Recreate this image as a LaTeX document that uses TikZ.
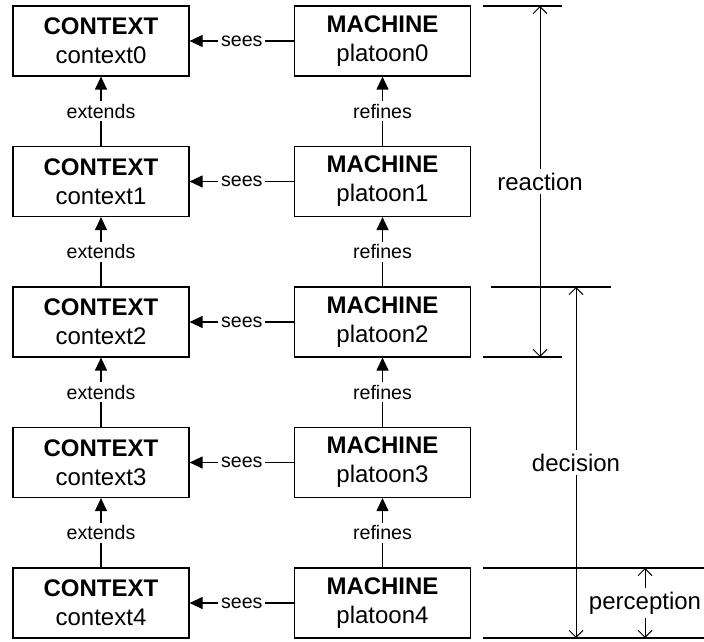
\documentclass[tikz,border=0pt]{standalone}
\usepackage{fontspec}
\setmainfont{Liberation Sans}
\usetikzlibrary{arrows.meta}

\begin{document}
\begin{tikzpicture}[x=0.5pt,y=-0.5pt,
           box_style/.style={draw=black,line width=0.6pt,minimum width=88pt,minimum height=35pt,inner sep=0pt,align=center,font=\fontsize{12}{14.5}\selectfont},
           edge_style/.style={draw=black,line width=0.6pt,-{Triangle[length=6.5pt,width=6pt]}},
           edge_label/.style={fill=white,inner sep=1.5pt,font=\fontsize{9.8}{11}\selectfont},
           dim_line/.style={draw=black,line width=0.6pt},
           dim_style/.style={draw=black,line width=0.5pt,{Straight Barb[length=3.5pt,width=7pt]}-{Straight Barb[length=3.5pt,width=7pt]}},
           dim_label/.style={fill=white,inner sep=2pt,font=\fontsize{12}{14}\selectfont}]
            \useasboundingbox (0,0) rectangle (704,641);
            % contexts
            \node[box_style] (c0) at (101, 41)  {\textbf{CONTEXT}\\context0};
            \node[box_style] (c1) at (101, 181.5)  {\textbf{CONTEXT}\\context1};
            \node[box_style] (c2) at (101, 322)  {\textbf{CONTEXT}\\context2};
            \node[box_style] (c3) at (101, 462.5)  {\textbf{CONTEXT}\\context3};
            \node[box_style] (c4) at (101, 603)  {\textbf{CONTEXT}\\context4};
            % machines
            \node[box_style] (m0) at (382.5, 41)  {\textbf{MACHINE}\\platoon0};
            \node[box_style] (m1) at (382.5, 181.5)  {\textbf{MACHINE}\\platoon1};
            \node[box_style] (m2) at (382.5, 322)  {\textbf{MACHINE}\\platoon2};
            \node[box_style] (m3) at (382.5, 462.5)  {\textbf{MACHINE}\\platoon3};
            \node[box_style] (m4) at (382.5, 603)  {\textbf{MACHINE}\\platoon4};
            \draw[edge_style]  (m0) -- node[edge_label]{sees} (c0);
            \draw[edge_style]  (m1) -- node[edge_label]{sees} (c1);
            \draw[edge_style]  (m2) -- node[edge_label]{sees} (c2);
            \draw[edge_style]  (m3) -- node[edge_label]{sees} (c3);
            \draw[edge_style]  (m4) -- node[edge_label]{sees} (c4);
            \draw[edge_style]  (c1) -- node[edge_label]{extends} (c0);
            \draw[edge_style]  (c2) -- node[edge_label]{extends} (c1);
            \draw[edge_style]  (c3) -- node[edge_label]{extends} (c2);
            \draw[edge_style]  (c4) -- node[edge_label]{extends} (c3);
            \draw[edge_style]  (m1) -- node[edge_label]{refines} (m0);
            \draw[edge_style]  (m2) -- node[edge_label]{refines} (m1);
            \draw[edge_style]  (m3) -- node[edge_label]{refines} (m2);
            \draw[edge_style]  (m4) -- node[edge_label]{refines} (m3);
            % phases
            \coordinate (r_top) at (540, 6);
            \coordinate (r_bot) at (540, 357);
            \coordinate (d_top) at (576, 287);
            \coordinate (d_bot) at (576, 638);
            \coordinate (p_top) at (645, 568);
            \coordinate (p_bot) at (645, 638);
            \draw[dim_line] (483, 6) -- (562, 6);
            \draw[dim_line] (483, 357) -- (562, 357);
            \draw[dim_line] (491, 287) -- (611, 287);
            \draw[dim_line] (483, 568) -- (704, 568);
            \draw[dim_line] (483, 638) -- (704, 638);
            \draw[dim_style] (r_top) -- node[dim_label]{reaction} (r_bot);
            \draw[dim_style] (d_top) -- node[dim_label]{decision} (d_bot);
            \draw[dim_style] (p_top) -- node[dim_label]{perception} (p_bot);
        \end{tikzpicture}
\end{document}
